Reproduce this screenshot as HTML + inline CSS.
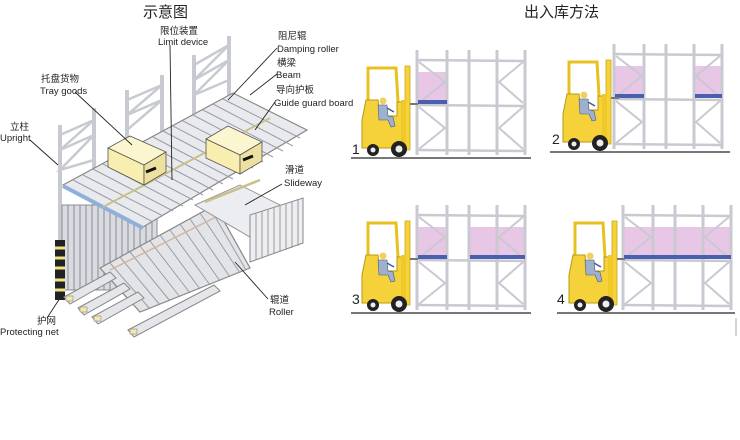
<!DOCTYPE html>
<html><head><meta charset="utf-8"><style>
html,body{margin:0;padding:0;background:#fff}
svg{display:block}
text{font-family:"Liberation Sans","Noto Sans CJK SC",sans-serif;fill:#222}
</style></head><body>
<svg width="740" height="440" viewBox="0 0 740 440" xmlns="http://www.w3.org/2000/svg">
<defs>
<g id="fork">
  <path d="M368 118 L368 68 L396 68 L398 102" fill="none" stroke="#e8c020" stroke-width="3"/>
  <path d="M362 120 L366 100 L378 100 L380 116 L397 116 L397 102 L406 102 L406 148 L362 148 Z" fill="#f5d23a" stroke="#b89a10" stroke-width="1"/>
  <rect x="405" y="66" width="5" height="84" fill="#f5d23a" stroke="#c8a818" stroke-width="0.8"/>
  <rect x="401" y="100" width="5" height="48" fill="#f0c828"/>
  <line x1="410" y1="104" x2="418" y2="104" stroke="#777" stroke-width="2"/>
  <circle cx="383" cy="101" r="3.5" fill="#f2d060"/>
  <path d="M378 105 L387 105 L388 116 L393 117 L395 126 L391 127 L388 120 L379 120 Z" fill="#9fb0cf" stroke="#4a5a80" stroke-width="0.6"/>
  <line x1="387" y1="108" x2="394" y2="112" stroke="#4a5a80" stroke-width="1.5"/>
  <circle cx="373" cy="150" r="6" fill="#222"/><circle cx="373" cy="150" r="2.5" fill="#eee"/>
  <circle cx="399" cy="149" r="8" fill="#222"/><circle cx="399" cy="149" r="3.5" fill="#eee"/>
</g>
<g id="rack" stroke="#c9c9d2" fill="none">
  <g stroke-width="3">
    <line x1="417" y1="50" x2="417" y2="155"/><line x1="447" y1="50" x2="447" y2="155"/>
    <line x1="469" y1="50" x2="469" y2="155"/><line x1="497" y1="50" x2="497" y2="155"/>
    <line x1="525" y1="50" x2="525" y2="155"/>
  </g>
  <g stroke-width="2.5">
    <line x1="417" y1="60" x2="525" y2="61"/><line x1="417" y1="105" x2="525" y2="106"/><line x1="417" y1="150" x2="525" y2="151"/>
  </g>
  <g stroke-width="2">
    <path d="M419 62 L445 82 L419 103 M419 107 L445 128 L419 149"/>
    <path d="M523 62 L499 82 L523 103 M523 107 L499 128 L523 149"/>
  </g>
</g>
</defs>

<text x="143" y="17" font-size="15">示意图</text>
<text x="524" y="17" font-size="15">出入库方法</text>

<line x1="351" y1="158" x2="531" y2="158" stroke="#777" stroke-width="2"/>
<rect x="418" y="72" width="28" height="28" fill="#e8c6e6"/>
<use href="#rack"/>
<rect x="418" y="100" width="29" height="4" fill="#4a5fb0"/>
<use href="#fork"/>
<text x="352" y="154" font-size="14" font-family="Liberation Serif">1</text>

<g transform="translate(0,-6)">
<line x1="550" y1="158" x2="730" y2="158" stroke="#777" stroke-width="2"/>
<g transform="translate(197,0)">
 <rect x="418" y="72" width="28" height="28" fill="#e8c6e6"/>
 <rect x="498" y="72" width="27" height="28" fill="#e8c6e6"/>
 <use href="#rack"/>
 <rect x="418" y="100" width="29" height="4" fill="#4a5fb0"/>
 <rect x="498" y="100" width="27" height="4" fill="#4a5fb0"/>
</g>
<use href="#fork" transform="translate(201,0)"/>
<text x="552" y="150" font-size="14" font-family="Liberation Serif">2</text>
</g>

<g transform="translate(0,155)">
<line x1="351" y1="158" x2="531" y2="158" stroke="#777" stroke-width="2"/>
<rect x="418" y="72" width="28" height="28" fill="#e8c6e6"/>
<rect x="470" y="72" width="55" height="28" fill="#e8c6e6"/>
<use href="#rack"/>
<rect x="418" y="100" width="29" height="4" fill="#4a5fb0"/>
<rect x="470" y="100" width="55" height="4" fill="#4a5fb0"/>
<use href="#fork"/>
<text x="352" y="149" font-size="14" font-family="Liberation Serif">3</text>
</g>

<g transform="translate(0,155)">
<line x1="557" y1="158" x2="735" y2="158" stroke="#777" stroke-width="2"/>
<g transform="translate(206,0)">
 <rect x="418" y="72" width="107" height="28" fill="#e8c6e6"/>
 <use href="#rack"/>
 <rect x="418" y="100" width="107" height="4" fill="#4a5fb0"/>
</g>
<use href="#fork" transform="translate(207,0)"/>
<text x="557" y="149" font-size="14" font-family="Liberation Serif">4</text>
</g>
<line x1="736" y1="318" x2="736" y2="336" stroke="#aaa" stroke-width="1"/>

<g stroke="#a9acb5" fill="none">
  <g stroke="#c8cad2" stroke-width="4">
    <line x1="60" y1="125" x2="60" y2="300"/><line x1="94" y1="108" x2="94" y2="250"/>
    <line x1="127" y1="90" x2="127" y2="210"/><line x1="162" y1="75" x2="162" y2="190"/>
    <line x1="194" y1="55" x2="194" y2="175"/><line x1="229" y1="36" x2="229" y2="160"/>
  </g>
  <g stroke="#c8cad2" stroke-width="2.5">
    <path d="M60 135 L94 120 L60 150 L94 135 L60 170 L94 160"/>
    <path d="M127 100 L162 85 L127 115 L162 100 L127 130"/>
    <path d="M194 65 L229 45 L194 80 L229 60 L194 95 L229 80"/>
  </g>
  <rect x="62" y="205" width="95" height="85" fill="#d9dbe0" stroke="#8c8f98"/>
  <g stroke="#888b95" stroke-width="1">
    <path d="M68 205V290M74 205V290M80 205V290M86 205V290M92 205V290M98 205V290M104 205V290M110 205V290M116 205V290M122 205V290M128 205V290M134 205V290M140 205V290M146 205V290M152 205V290"/>
  </g>
  <rect x="55" y="240" width="10" height="60" fill="#222" stroke="none"/>
  <path d="M55 248h10M55 258h10M55 268h10M55 280h10M55 290h10" stroke="#f2e48a" stroke-width="3"/>
  <polygon points="63,185 233,93 307,130 143,227" fill="#e9eaee" stroke="#888" stroke-width="1.2"/>
  <g stroke="#9a9da6" stroke-width="1">
    <path d="M73,180 153,222 M83,175 163,216 M93,169 173,211 M103,164 183,206 M113,158 193,200 M123,153 203,195 M133,148 213,190 M143,142 223,184 M153,137 233,179 M163,131 243,173 M173,126 253,168 M183,121 263,162 M193,115 273,157 M203,110 283,151 M213,104 293,146 M223,99 300,138"/>
  </g>
  <line x1="63" y1="186" x2="143" y2="228" stroke="#8fb0d8" stroke-width="4"/>
  <line x1="103" y1="207" x2="270" y2="118" stroke="#c9c08a" stroke-width="2"/>
  <g stroke="#555" stroke-width="0.8">
    <polygon points="108,148 130,136 166,152 144,165" fill="#fbf6cf"/>
    <polygon points="108,148 144,165 144,185 108,167" fill="#f7eeb0"/>
    <polygon points="144,165 166,152 166,172 144,185" fill="#ece1a0"/>
    <polygon points="206,139 228,126 262,142 240,155" fill="#fbf6cf"/>
    <polygon points="206,139 240,155 240,174 206,158" fill="#f7eeb0"/>
    <polygon points="240,155 262,142 262,161 240,174" fill="#ece1a0"/>
  </g>
  <path d="M146 172 l10 -4 M243 160 l10 -4" stroke="#111" stroke-width="3"/>
  <polygon points="100,268 215,205 250,268 140,312" fill="#e3e4e8" stroke="#888" stroke-width="1.2"/>
  <g stroke="#9a9da6" stroke-width="1">
    <path d="M110,263 150,309 M120,257 160,305 M130,252 170,301 M140,246 180,297 M150,241 190,293 M160,235 200,289 M170,230 210,285 M180,224 220,281 M190,219 230,277 M200,213 240,273 M210,208 246,270"/>
  </g>
  <line x1="110" y1="270" x2="230" y2="210" stroke="#d4b5a0" stroke-width="1.5"/>
  <polygon points="195,205 240,185 300,215 255,240" fill="#ecedf0" stroke="#999"/>
  <line x1="205" y1="202" x2="260" y2="180" stroke="#c9c08a" stroke-width="2.5"/>
  <polygon points="250,215 303,198 303,243 250,262" fill="#eeeef2" stroke="#888"/>
  <path d="M256 213V260M262 211V258M268 209V256M274 207V254M280 205V252M286 203V250M292 201V248M298 199V246" stroke="#999"/>
  <g fill="#e5e6ea" stroke="#888">
    <polygon points="64,297 110,272 116,278 70,304"/>
    <polygon points="78,308 124,283 130,289 84,315"/>
    <polygon points="92,317 138,292 144,298 98,324"/>
    <polygon points="128,330 214,285 220,291 134,337"/>
  </g>
  <g fill="#f3e9a8" stroke="#888" stroke-width="0.6">
    <rect x="66" y="296" width="7" height="5"/><rect x="80" y="307" width="7" height="5"/>
    <rect x="94" y="316" width="7" height="5"/><rect x="130" y="329" width="7" height="5"/>
  </g>
</g>
<g stroke="#222" stroke-width="0.9" fill="none">
  <path d="M170 45 L172 180"/>
  <path d="M277 48 L228 100"/>
  <path d="M277 74 L250 95"/>
  <path d="M275 102 L255 130"/>
  <path d="M75 92 L132 145"/>
  <path d="M30 140 L58 165"/>
  <path d="M282 184 L245 205"/>
  <path d="M268 299 L235 262"/>
  <path d="M47 318 L62 295"/>
</g>
<g font-size="9.5">
<text x="160" y="34">限位装置</text><text x="158" y="45">Limit device</text>
<text x="278" y="39">阻尼辊</text><text x="277" y="52">Damping roller</text>
<text x="277" y="66">横梁</text><text x="276" y="78">Beam</text>
<text x="276" y="93">导向护板</text><text x="274" y="106">Guide guard board</text>
<text x="41" y="82">托盘货物</text><text x="40" y="94">Tray goods</text>
<text x="10" y="130">立柱</text><text x="0" y="141">Upright</text>
<text x="285" y="173">滑道</text><text x="284" y="186">Slideway</text>
<text x="270" y="303">辊道</text><text x="269" y="315">Roller</text>
<text x="37" y="324">护网</text><text x="0" y="335">Protecting net</text>
</g>
</svg>
</body></html>
